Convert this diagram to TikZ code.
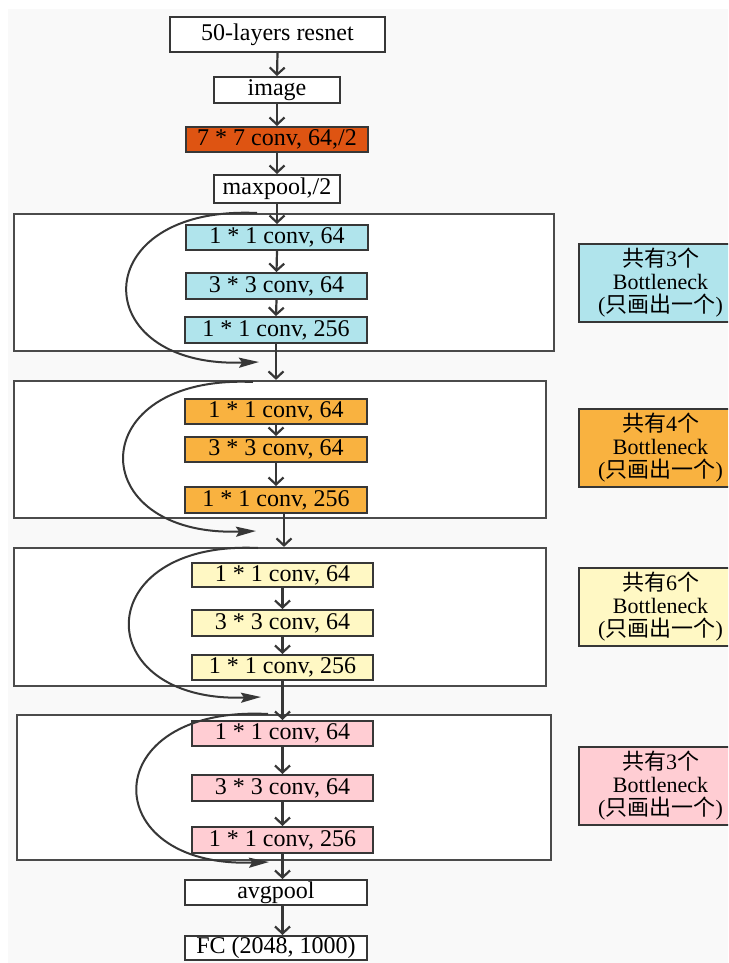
\documentclass[tikz,border=0pt]{standalone}
\usepackage{fontspec}
\setmainfont{Liberation Serif}
\newfontfamily\cjk{Noto Sans CJK SC}
\usetikzlibrary{arrows.meta}

\definecolor{bgcol}{RGB}{249,249,249}
\definecolor{linecol}{RGB}{55,55,55}
\definecolor{stemcol}{RGB}{222,84,18}
\definecolor{cyanfill}{RGB}{176,228,236}
\definecolor{orangefill}{RGB}{249,178,64}
\definecolor{yellowfill}{RGB}{255,248,196}
\definecolor{pinkfill}{RGB}{255,205,211}

\tikzset{
  box/.style={draw=linecol, line width=2pt, fill=white, inner sep=0pt,
    font=\fontsize{24}{24}\selectfont},
  stage/.style={draw=linecol!90, line width=2.2pt, fill=white, inner sep=0pt},
  legend/.style={draw=linecol, line width=2pt, inner sep=0pt, align=center,
    minimum width=163pt, minimum height=78pt, anchor=west,
    font=\fontsize{22}{23}\selectfont},
  flow/.style={draw=linecol, line width=2.2pt,
    -{Straight Barb[length=7pt,width=15pt,line width=2.2pt]}},
  skip/.style={draw=linecol, line width=2pt,
    -{Stealth[length=20pt,width=10pt,inset=3pt]}},
}

\begin{document}
\begin{tikzpicture}[x=1pt,y=-1pt]
\useasboundingbox (0,0) rectangle (728,963);
\clip (0,0) rectangle (728,963);
\fill[bgcol] (8,9) rectangle (728,963);

% stem
\node[box, minimum width=215pt, minimum height=35pt] (top) at (277.5,34.5) {50-layers resnet};
\node[box, minimum width=126pt, minimum height=26pt] (img) at (277,90) {image};
\node[box, fill=stemcol, minimum width=182pt, minimum height=25pt] (conv7) at (277,139.5) {7 * 7 conv, 64,/2};
\node[box, minimum width=126pt, minimum height=28pt] (maxp) at (277,189) {maxpool,/2};

% stage frames
\node[stage, minimum width=540pt, minimum height=137pt] (blk1) at (284,282.5) {};
\node[stage, minimum width=532pt, minimum height=137pt] (blk2) at (280,449.5) {};
\node[stage, minimum width=532pt, minimum height=138pt] (blk3) at (280,617) {};
\node[stage, minimum width=534pt, minimum height=145pt] (blk4) at (284,787.5) {};

% stage 1
\node[box, fill=cyanfill, minimum width=182pt, minimum height=25pt] (b1a) at (277,237.5) {1 * 1 conv, 64};
\node[box, fill=cyanfill, minimum width=181pt, minimum height=26pt] (b1b) at (276.5,286) {3 * 3 conv, 64};
\node[box, fill=cyanfill, minimum width=182pt, minimum height=26pt] (b1c) at (276,330) {1 * 1 conv, 256};

% stage 2
\node[box, fill=orangefill, minimum width=182pt, minimum height=25pt] (b2a) at (276,411.5) {1 * 1 conv, 64};
\node[box, fill=orangefill, minimum width=182pt, minimum height=25pt] (b2b) at (276,449.5) {3 * 3 conv, 64};
\node[box, fill=orangefill, minimum width=182pt, minimum height=26pt] (b2c) at (276,500) {1 * 1 conv, 256};

% stage 3
\node[box, fill=yellowfill, minimum width=181pt, minimum height=24pt] (b3a) at (282.5,575) {1 * 1 conv, 64};
\node[box, fill=yellowfill, minimum width=181pt, minimum height=26pt] (b3b) at (282.5,623) {3 * 3 conv, 64};
\node[box, fill=yellowfill, minimum width=181pt, minimum height=25pt] (b3c) at (282.5,667.5) {1 * 1 conv, 256};

% stage 4
\node[box, fill=pinkfill, minimum width=181pt, minimum height=25pt] (b4a) at (282.5,733.5) {1 * 1 conv, 64};
\node[box, fill=pinkfill, minimum width=181pt, minimum height=26pt] (b4b) at (282.5,788) {3 * 3 conv, 64};
\node[box, fill=pinkfill, minimum width=181pt, minimum height=26pt] (b4c) at (282.5,840) {1 * 1 conv, 256};

% head
\node[box, minimum width=182pt, minimum height=25pt] (avg) at (276,892.5) {avgpool};
\node[box, minimum width=182pt, minimum height=24pt] (fc) at (276,948) {FC (2048, 1000)};

% legends
\node[legend, fill=cyanfill] (leg1) at (578,283) {{\cjk 共有}3{\cjk 个}\\Bottleneck\\({\cjk 只画出一个})};
\node[legend, fill=orangefill] (leg2) at (578,448) {{\cjk 共有}4{\cjk 个}\\Bottleneck\\({\cjk 只画出一个})};
\node[legend, fill=yellowfill] (leg3) at (578,607) {{\cjk 共有}6{\cjk 个}\\Bottleneck\\({\cjk 只画出一个})};
\node[legend, fill=pinkfill] (leg4) at (578,785.5) {{\cjk 共有}3{\cjk 个}\\Bottleneck\\({\cjk 只画出一个})};

% main path
\draw[flow] (top.south) -- (img.north);
\draw[flow] (img.south) -- (conv7.north);
\draw[flow] (conv7.south) -- (maxp.north);
\draw[flow] (maxp.south) -- (b1a.north);
\draw[flow] (b1a.south) -- (b1b.north);
\draw[flow] (b1b.south) -- (b1c.north);
\draw[flow] (b1c.south) -- (b1c.south |- blk2.north);
\draw[flow] (b2a.south) -- (b2b.north);
\draw[flow] (b2b.south) -- (b2c.north);
\draw[flow] ([xshift=8pt]b2c.south) -- ([xshift=8pt]b2c.south |- blk3.north);
\draw[flow] (b3a.south) -- (b3b.north);
\draw[flow] (b3b.south) -- (b3c.north);
\draw[flow] (b3c.south) -- (b4a.north);
\draw[flow] (b4a.south) -- (b4b.north);
\draw[flow] (b4b.south) -- (b4c.north);
\draw[flow] (b4c.south) -- (b4c.south |- avg.north);
\draw[flow] (b4c.south |- avg.south) -- (b4c.south |- fc.north);

% shortcut connections
\coordinate (s1) at (257,213);  \coordinate (e1) at (259,362);
\coordinate (s2) at (253,382);  \coordinate (e2) at (256,531);
\coordinate (s3) at (258,548);  \coordinate (e3) at (261,697);
\coordinate (s4) at (268,714);  \coordinate (e4) at (269,862);
\draw[skip] (s1) .. controls (85,205) and (85,368) .. (e1);
\draw[skip] (s2) .. controls (82,374) and (82,537) .. (e2);
\draw[skip] (s3) .. controls (88,540) and (88,703) .. (e3);
\draw[skip] (s4) .. controls (95,705) and (95,868) .. (e4);
\end{tikzpicture}
\end{document}
